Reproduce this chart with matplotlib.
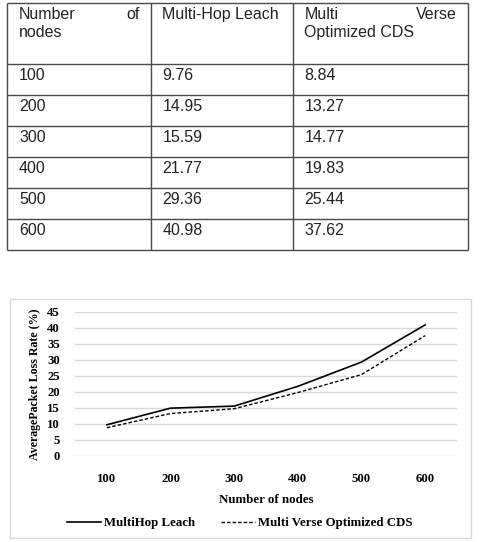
import matplotlib
matplotlib.use("Agg")
import matplotlib.pyplot as plt
from matplotlib.patches import Rectangle

# ---- data ----
nodes = ["100", "200", "300", "400", "500", "600"]
multihop_leach = [9.76, 14.95, 15.59, 21.77, 29.36, 40.98]
mvo_cds = [8.84, 13.27, 14.77, 19.83, 25.44, 37.62]
y_ticks = [0, 5, 10, 15, 20, 25, 30, 35, 40, 45]
col_headers = ["Number of nodes", "Multi-Hop Leach", "Multi Verse Optimized CDS"]
series_labels = ["MultiHop Leach", "Multi Verse Optimized CDS"]

W, H = 482, 542
DPI = 100
fig = plt.figure(figsize=(W / DPI, H / DPI), dpi=DPI)

# overlay axes in pixel coordinates for table and frame
bg = fig.add_axes([0, 0, 1, 1])
bg.set_xlim(0, W)
bg.set_ylim(H, 0)
bg.axis("off")

# ---- table ----
sans = "Liberation Sans"
tfs = 11.5
tcol = "#222222"
lcol = "#4a4a4a"
xs = [7, 151, 293, 468]
ys = [3, 64, 95, 126, 157, 188, 219, 250]
for x in xs:
    bg.plot([x, x], [ys[0], ys[-1]], color=lcol, lw=1.0, solid_capstyle="butt")
for y in ys:
    bg.plot([xs[0], xs[-1]], [y, y], color=lcol, lw=1.0, solid_capstyle="butt")

pad = 11.5
# header (justified look)
bg.text(xs[0] + pad + 0.5, 19.3, "Number", family=sans, fontsize=tfs, color=tcol, va="baseline", ha="left")
bg.text(xs[1] - pad, 19.3, "of", family=sans, fontsize=tfs, color=tcol, va="baseline", ha="right")
bg.text(xs[0] + pad + 0.5, 37.3, "nodes", family=sans, fontsize=tfs, color=tcol, va="baseline", ha="left")
bg.text(xs[1] + pad, 19.3, col_headers[1], family=sans, fontsize=tfs, color=tcol, va="baseline", ha="left")
bg.text(xs[2] + pad, 19.3, "Multi", family=sans, fontsize=tfs, color=tcol, va="baseline", ha="left")
bg.text(xs[3] - pad, 19.3, "Verse", family=sans, fontsize=tfs, color=tcol, va="baseline", ha="right")
bg.text(xs[2] + pad, 37.3, "Optimized CDS", family=sans, fontsize=tfs, color=tcol, va="baseline", ha="left")

for i, (n, a, b) in enumerate(zip(nodes, multihop_leach, mvo_cds)):
    yb = ys[i + 1] + 16
    bg.text(xs[0] + pad + 0.5, yb, n, family=sans, fontsize=tfs, color=tcol, va="baseline")
    bg.text(xs[1] + pad, yb, f"{a:.2f}", family=sans, fontsize=tfs, color=tcol, va="baseline")
    bg.text(xs[2] + pad, yb, f"{b:.2f}", family=sans, fontsize=tfs, color=tcol, va="baseline")

# chart frame
bg.add_patch(Rectangle((10, 299), 461, 239, fill=False, edgecolor="#d9d9d9", lw=1.0))

# ---- chart ----
serif = "Liberation Serif"
left, right, top, bottom = 75, 457, 312, 456
ax = fig.add_axes([left / W, 1 - bottom / H, (right - left) / W, (bottom - top) / H])
x = list(range(len(nodes)))
ax.plot(x, multihop_leach, color="black", lw=1.2, label=series_labels[0])
ax.plot(x, mvo_cds, color="black", lw=1.0, dashes=(2.5, 1.5), label=series_labels[1])
ax.set_xlim(-0.5, len(nodes) - 0.5)
ax.set_ylim(0, 45)
ax.set_yticks(y_ticks)
ax.set_xticks(x)
ax.set_xticklabels(nodes)
ax.yaxis.grid(True, color="#d9d9d9", lw=1.0)
ax.set_axisbelow(True)
for s in ax.spines.values():
    s.set_visible(False)
ax.tick_params(axis="both", length=0)
ax.tick_params(axis="y", pad=11)
ax.tick_params(axis="x", pad=12)
for lab in ax.get_xticklabels() + ax.get_yticklabels():
    lab.set_fontfamily(serif)
    lab.set_fontweight("bold")
    lab.set_fontsize(9.2)
ax.set_xlabel("Number of nodes", family=serif, fontweight="bold", fontsize=9.3, labelpad=7)
ax.set_ylabel("AveragePacket Loss Rate (%)", family=serif, fontweight="bold", fontsize=8.6, labelpad=4)

leg = fig.legend(loc="center", bbox_to_anchor=(240 / W, 1 - 523 / H), ncol=2, frameon=False,
                 prop={"family": serif, "weight": "bold", "size": 9.3},
                 handlelength=2.6, handletextpad=0.25, columnspacing=2.0)

fig.savefig("out.png", dpi=DPI)
